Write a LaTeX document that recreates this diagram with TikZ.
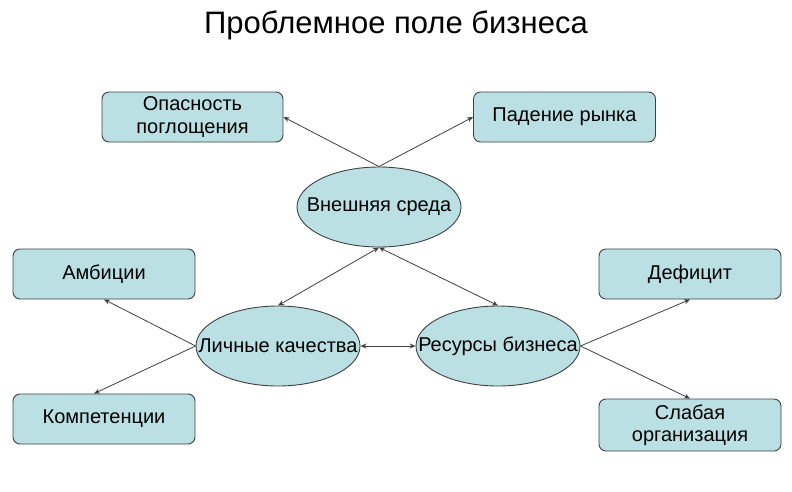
\documentclass[tikz,border=0pt]{standalone}
\usepackage{fontspec}
\setmainfont{Liberation Sans}
\usepackage{xcolor}
\usetikzlibrary{positioning, shapes.geometric, arrows.meta}

\definecolor{cellfill}{RGB}{187,224,227}
\definecolor{celledge}{RGB}{64,64,64}

% text that does not widen the oval
\newcommand{\ovaltext}[1]{\makebox[0pt]{#1}}

\begin{document}
\begin{tikzpicture}[
        x=1pt, y=-1pt,
        every node/.style={font=\fontsize{20}{22.5}\selectfont},
        box/.style={draw=celledge, fill=cellfill, rectangle, rounded corners=7pt, line width=0.9pt, minimum height=50pt, minimum width=182pt, align=center, inner sep=1pt},
        oval/.style={draw=celledge, fill=cellfill, ellipse, line width=0.9pt, minimum height=80pt, minimum width=164pt, inner sep=0pt},
        link/.style={draw=celledge, line width=0.8pt, -{Stealth[length=6pt,width=5pt]}},
        dlink/.style={draw=celledge, line width=0.8pt, {Stealth[length=6pt,width=5pt]}-{Stealth[length=6pt,width=5pt]}}
    ]

    \useasboundingbox (0,0) rectangle (792,491);

    \node[font=\fontsize{31}{35}\selectfont] (title) at (396,25) {Проблемное поле бизнеса};

    \node[oval] (env) at (379,207) {\ovaltext{Внешняя среда}};
    \node[oval] (personal) at (278,346) {\ovaltext{Личные качества}};
    \node[oval] (resources) at (498,346) {\ovaltext{Ресурсы бизнеса}};

    \node[box, minimum width=181pt] (takeover) at (192.5,117) {Опасность\\поглощения};
    \node[box] (market) at (564.5,117) {Падение рынка};
    \node[box] (ambition) at (104,274) {Амбиции};
    \node[box] (skills) at (104,419) {Компетенции};
    \node[box] (deficit) at (690,274) {Дефицит};
    \node[box, minimum height=52pt] (weakorg) at (690,425) {Слабая\\организация};

    \draw[link] (env.north) -- (takeover.east);
    \draw[link] (env.north) -- (market.west);

    \draw[dlink] (env.south) -- (personal.north);
    \draw[dlink] (env.south) -- (resources.north);
    \draw[dlink] (personal.east) -- (resources.west);

    \draw[link] (personal.west) -- (ambition.south);
    \draw[link] (personal.west) -- ([xshift=-10pt]skills.north);

    \draw[link] (resources.east) -- (deficit.south);
    \draw[link] (resources.east) -- (weakorg.north);

\end{tikzpicture}
\end{document}
